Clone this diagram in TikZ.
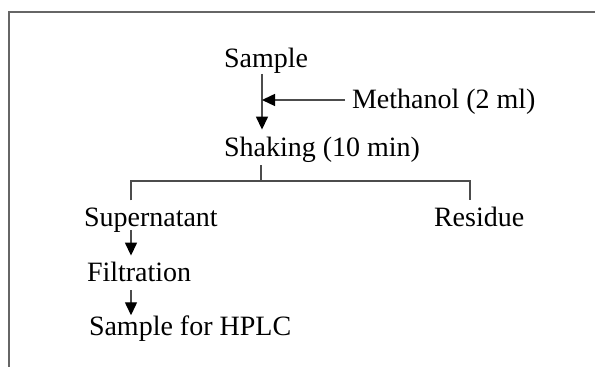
\documentclass[tikz,border=0pt]{standalone}
\usepackage{fontspec}
\setmainfont{Liberation Serif}
\usepackage{tikz}
\usetikzlibrary{arrows.meta}

\tikzset{
    lbl/.style={anchor=base west, inner sep=0pt, outer sep=0pt, font=\fontsize{14}{17}\selectfont},
    ln/.style={draw=black!70, line width=0.7pt},
    arr/.style={ln, -{Triangle[length=6.5pt,width=6pt,color=black]}},
}

\begin{document}
\begin{tikzpicture}[x=0.5pt,y=0.5pt,yscale=-1,xscale=1]
    \useasboundingbox (0,0) rectangle (595,367);

    %Shape: Frame
    \draw[draw=black!60, line width=0.8pt] (595,12) -- (9,12) -- (9,367);

    % Text Node
    \node[lbl] (sample) at (224,68) {Sample};
    % Text Node
    \node[lbl] (methanol) at (352,109) {Methanol (2 ml)};
    % Text Node
    \node[lbl] (shaking) at (224,156.5) {Shaking (10 min)};
    % Text Node
    \node[lbl] (super) at (84,226.5) {Supernatant};
    % Text Node
    \node[lbl] (residue) at (434,226.5) {Residue};
    % Text Node
    \node[lbl] (filt) at (87,282) {Filtration};
    % Text Node
    \node[lbl] (hplc) at (89,336) {Sample for HPLC};

    \coordinate (stem) at (262,100);
    \coordinate (fork) at (261,181);
    \coordinate (forkL) at (131,181);
    \coordinate (forkR) at (470,181);

    %Straight Lines
    \draw[arr] (stem |- sample.south) -- ([yshift=-3.75pt]stem |- shaking.north);
    \draw[arr] ([xshift=-3.5pt]methanol.west |- stem) -- (stem);
    %Straight Lines
    \draw[ln] ([yshift=1.25pt]fork |- shaking.south) -- (fork);
    \draw[ln] ([yshift=-3.75pt]forkL |- super.north) -- (forkL) -- (forkR) -- ([yshift=-3.75pt]forkR |- residue.north);
    %Straight Lines
    \draw[arr] ([yshift=-1.25pt]forkL |- super.south) -- ([yshift=-3.5pt]forkL |- filt.north);
    \draw[arr] ([yshift=4pt]forkL |- filt.south) -- ([yshift=-0.5pt]forkL |- hplc.north);
\end{tikzpicture}
\end{document}
